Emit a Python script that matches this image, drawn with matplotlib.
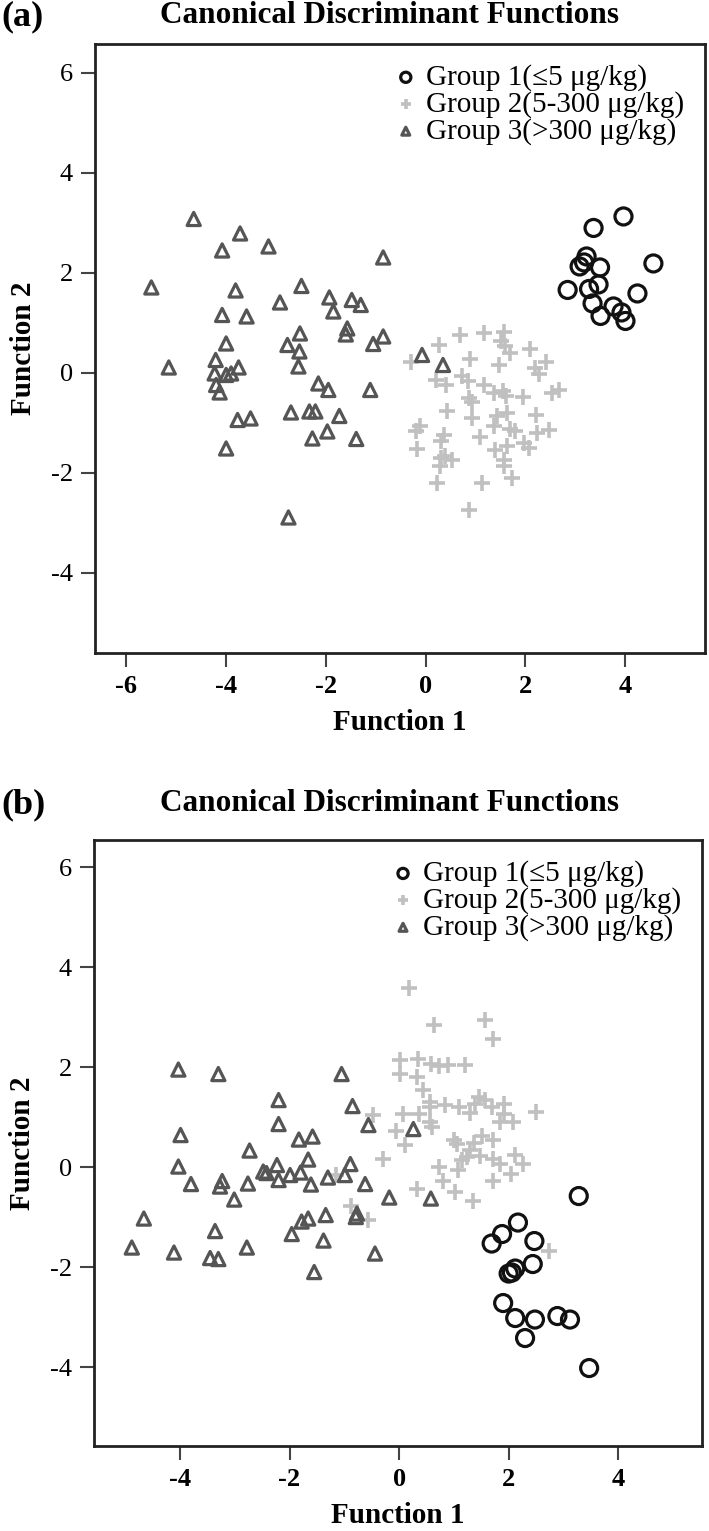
import matplotlib
matplotlib.use("Agg")
import matplotlib.pyplot as plt

plt.rcParams["font.family"] = ["Liberation Serif", "DejaVu Serif"]
plt.rcParams["axes.unicode_minus"] = False

# ---- panel (a) ----
g1a_x = [3.97, 3.37, 3.23, 3.09, 3.18, 3.50, 4.57, 2.85, 3.28, 3.47, 4.25, 3.35, 3.77, 3.93, 3.51, 4.01]
g1a_y = [3.13, 2.90, 2.33, 2.13, 2.21, 2.11, 2.19, 1.66, 1.68, 1.77, 1.59, 1.39, 1.33, 1.21, 1.14, 1.04]

g2a_x = [0.70, 1.18, 1.58, 0.27, 1.51, 1.60, 1.70, 2.09, 0.89, 1.47, -0.30, 2.41, 2.20, 2.27,
         0.73, 0.20, 0.42, 0.85, 1.18, 1.37, 1.55, 1.62, 1.95, 2.53, 2.67, 0.87, 0.93, 0.43,
         0.93, 1.43, 1.63, 2.21, -0.11, -0.20, 0.37, 0.30, 1.10, 1.37, 1.70, 1.79, 2.23, 2.47,
         -0.18, 0.30, 0.40, 0.53, 0.29, 1.40, 1.63, 1.98, 2.08, 1.57, 1.57, 1.73, 1.13, 0.23, 0.87]
g2a_y = [0.76, 0.79, 0.81, 0.55, 0.63, 0.53, 0.39, 0.47, 0.28, 0.16, 0.21, 0.21, 0.09, -0.03,
         -0.07, -0.14, -0.24, -0.17, -0.24, -0.41, -0.37, -0.46, -0.49, -0.41, -0.34, -0.51, -0.59, -0.77,
         -0.91, -0.87, -0.81, -0.84, -1.07, -1.17, -1.24, -1.37, -1.29, -1.07, -1.13, -1.17, -1.21, -1.15,
         -1.53, -1.71, -1.67, -1.74, -1.87, -1.54, -1.47, -1.41, -1.51, -1.74, -1.87, -2.11, -2.21, -2.21, -2.74]

g3a_x = [-4.65, -3.72, -4.08, -3.15, -0.85, -5.50, -3.81, -2.49, -2.92, -1.93, -1.48, -1.30, -1.85,
         -4.08, -3.59, -2.52, -1.57, -1.60, -0.85, -1.05, -4.00, -2.77, -2.53, -5.15, -4.21, -4.23,
         -4.00, -3.90, -3.75, -2.55, -4.20, -4.13, -2.15, -1.95, -1.11, -3.77, -3.51, -2.70, -2.33,
         -2.21, -1.73, -1.97, -2.27, -1.39, -4.00, -2.75, -0.07, 0.35]
g3a_y = [3.08, 2.79, 2.45, 2.53, 2.31, 1.71, 1.65, 1.74, 1.41, 1.51, 1.46, 1.36, 1.23,
         1.16, 1.13, 0.79, 0.89, 0.77, 0.73, 0.58, 0.59, 0.56, 0.43, 0.11, 0.26, -0.01,
         -0.04, -0.01, 0.11, 0.13, -0.24, -0.39, -0.21, -0.34, -0.34, -0.94, -0.91, -0.79, -0.77,
         -0.77, -0.86, -1.17, -1.31, -1.32, -1.51, -2.89, 0.36, 0.16]

# ---- panel (b) ----
g1b_x = [3.28, 2.17, 1.88, 1.69, 2.47, 2.44, 2.12, 2.06, 2.00, 1.90, 2.12, 2.48, 2.30, 2.89, 3.12, 3.47]
g1b_y = [-0.58, -1.11, -1.34, -1.53, -1.48, -1.94, -2.03, -2.11, -2.13, -2.72, -3.02, -3.05, -3.42, -2.98, -3.05, -4.02]

g2b_x = [0.18, 0.64, 1.57, 1.71, 0.02, 0.35, 0.58, 0.73, 0.90, 1.21, 0.02, 0.33, 0.44, 0.57,
         0.57, 0.84, 1.10, 1.45, 1.57, 1.39, 1.69, 1.92, 1.91, 1.30, 0.08, 0.37, 0.57, 0.60,
         -0.47, -0.05, 0.10, -0.29, 2.50, 1.84, 2.08, 1.01, 1.05, 1.51, 1.72, 1.36, 1.30, 1.24,
         1.15, 1.47, 1.72, 1.84, 2.12, 2.27, 2.04, 0.72, 1.08, 0.81, 1.72, 1.02, 0.32, 1.35,
         -0.56, 2.74, -1.15, -0.88]
g2b_y = [3.59, 2.84, 2.95, 2.57, 2.14, 2.17, 2.06, 2.03, 2.05, 2.05, 1.86, 1.80, 1.55, 1.31,
         1.21, 1.24, 1.21, 1.41, 1.34, 1.27, 1.21, 1.27, 1.07, 1.09, 1.07, 1.06, 0.91, 0.81,
         1.04, 0.72, 0.44, 0.16, 1.11, 0.91, 0.91, 0.54, 0.47, 0.62, 0.55, 0.49, 0.34, 0.21,
         0.14, 0.23, 0.17, 0.07, 0.25, 0.06, -0.13, 0.01, -0.06, -0.27, -0.28, -0.49, -0.43, -0.67,
         -1.06, -1.67, -0.16, -0.78]

g3b_x = [-4.03, -3.30, -1.05, -2.20, -0.85, -2.20, -0.56, -3.99, -1.83, -1.58, -2.73, -1.66,
         -2.23, -0.89, -4.03, -2.48, -2.42, -1.99, -1.80, -2.20, -1.30, -0.99, -3.80, -3.23,
         -3.27, -2.76, -1.61, -0.62, -3.01, -0.18, -4.66, -3.36, -1.34, -1.66, -1.78, -0.77,
         -0.79, -1.96, -1.38, -4.88, -4.11, -2.78, -0.44, -3.45, -3.30, -1.55, 0.26, 0.58]
g3b_y = [1.95, 1.86, 1.86, 1.34, 1.22, 0.86, 0.84, 0.64, 0.55, 0.61, 0.33, 0.15,
         0.04, 0.06, 0.01, -0.09, -0.12, -0.16, -0.11, -0.26, -0.21, -0.16, -0.34, -0.28,
         -0.39, -0.33, -0.35, -0.34, -0.65, -0.61, -1.03, -1.28, -0.96, -1.03, -1.09, -0.93,
         -1.00, -1.34, -1.47, -1.61, -1.71, -1.61, -1.73, -1.82, -1.84, -2.10, 0.76, -0.63]

labels = ["Group 1(\u22645 \u03bcg/kg)", "Group 2(5-300 \u03bcg/kg)", "Group 3(>300 \u03bcg/kg)"]

fig = plt.figure(figsize=(7.09, 15.31), dpi=100)


def panel(rect, g1, g2, g3, xlim, ylim, xticks, tag, top_px):
    ax = fig.add_axes(rect)
    ax.scatter(*g2, marker="+", s=120, color="#c0c0c0", linewidths=2.6, label=labels[1], zorder=2)
    ax.scatter(*g3, marker="^", s=90, facecolors="none", edgecolors="#555555", linewidths=2.3,
               label=labels[2], zorder=3)
    ax.scatter(*g1, marker="o", s=150, facecolors="none", edgecolors="#111111", linewidths=2.3,
               label=labels[0], zorder=4)
    ax.set_xlim(*xlim)
    ax.set_ylim(*ylim)
    ax.set_xticks(xticks)
    ax.set_yticks([-4, -2, 0, 2, 4, 6])
    ax.set_xticklabels([str(t) for t in xticks], fontweight="bold")
    ax.tick_params(direction="out", length=10, width=1.5, color="#444444", labelsize=19, pad=6)
    for sp in ax.spines.values():
        sp.set_linewidth(2.0)
        sp.set_color("#222222")
    ax.set_xlabel("Function 1", fontsize=21, fontweight="bold", labelpad=8)
    ax.set_ylabel("Function 2", fontsize=21, fontweight="bold", labelpad=10)
    h, l = ax.get_legend_handles_labels()
    order = [2, 0, 1]
    ax.legend([h[i] for i in order], [l[i] for i in order], loc="upper right", frameon=False,
              fontsize=21, markerscale=0.6, handletextpad=0.25, handlelength=0.9,
              labelspacing=0.0, borderaxespad=0.4, borderpad=0.3)
    fig.text(389 / 709, 1 - top_px / 1531, "Canonical Discriminant Functions", ha="center",
             va="top", fontsize=22.5, fontweight="bold")
    fig.text(0.002, 1 - (top_px - 1) / 1531, tag, ha="left", va="top", fontsize=26,
             fontweight="bold")
    return ax


panel([0.134, 0.5735, 0.860, 0.3978], (g1a_x, g1a_y), (g2a_x, g2a_y), (g3a_x, g3a_y),
      (-6.63, 5.6), (-5.6, 6.58), [-6, -4, -2, 0, 2, 4], "(a)", 1)
panel([0.1326, 0.0555, 0.8575, 0.3958], (g1b_x, g1b_y), (g2b_x, g2b_y), (g3b_x, g3b_y),
      (-5.57, 5.53), (-5.58, 6.54), [-4, -2, 0, 2, 4], "(b)", 789)

fig.savefig("out.png", dpi=100)
